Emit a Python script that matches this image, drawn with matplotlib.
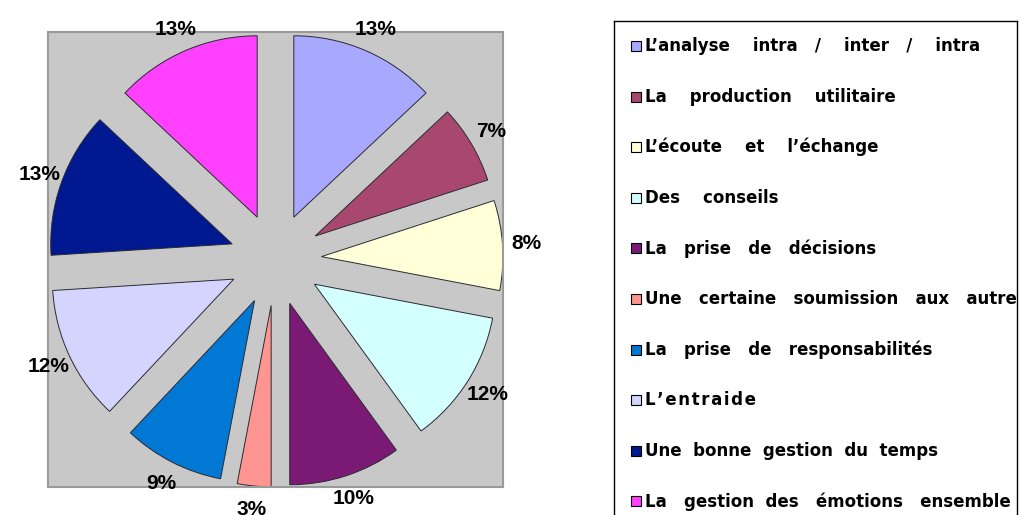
import numpy as np
import matplotlib
matplotlib.use("Agg")
from matplotlib import pyplot as plt
from matplotlib.patches import Rectangle

# parts de chaque réponse (en %), dans l'ordre du camembert (sens horaire depuis midi)
labels = [
    "L’analyse    intra   /    inter   /    intra",
    "La    production    utilitaire",
    "L’écoute    et    l’échange",
    "Des    conseils",
    "La   prise   de   décisions",
    "Une   certaine   soumission   aux   autres",
    "La   prise   de   responsabilités",
    "L\u200a’\u200ae\u200an\u200at\u200ar\u200aa\u200ai\u200ad\u200ae",
    "Une  bonne  gestion  du  temps",
    "La   gestion  des   émotions   ensemble",
]
values = [13, 7, 8, 12, 10, 3, 9, 12, 13, 13]
colors = ["#A8A8FF", "#A8486F", "#FFFFD8", "#D4FFFF", "#7A1A74",
          "#FF9590", "#0078D4", "#D4D4FF", "#001890", "#FF40FF"]

W, H = 1019, 515
fig = plt.figure(figsize=(W / 100, H / 100), dpi=100)
fig.patch.set_facecolor("white")

# zone du camembert (fond gris)
x0, y0, x1, y1 = 48, 32, 503, 487
ax = fig.add_axes([x0 / W, 1 - y1 / H, (x1 - x0) / W, (y1 - y0) / H])

expl = 0.254
wedges, texts, autotexts = ax.pie(
    values, colors=colors, startangle=90, counterclock=False,
    explode=[expl] * len(values), radius=1.0, frame=True,
    autopct=lambda p: "%d%%" % round(p), pctdistance=1.13,
    wedgeprops=dict(edgecolor="#2A2A33", linewidth=0.7),
    textprops=dict(fontsize=15, fontweight="bold", family="Liberation Sans", color="black"),
)
lim = 1 + expl
ax.set_xlim(-lim, lim)
ax.set_ylim(-lim, lim)
ax.set_aspect("auto")
ax.set_facecolor("#C8C8C8")
for s in ax.spines.values():
    s.set_color("#9A9A9A")
    s.set_linewidth(1.5)
ax.set_xticks([])
ax.set_yticks([])
for t in autotexts:
    t.set_clip_on(False)

# légende dessinée dans un cadre (le texte déborde et est coupé à droite)
lx0, lx1, ly0 = 614, 1017, 21
lax = fig.add_axes([lx0 / W, -0.1, (lx1 - lx0) / W, 1 - ly0 / H + 0.1])
lax.set_xlim(lx0, lx1)
lax.set_ylim(H + 0.1 * H, ly0)
lax.set_xticks([])
lax.set_yticks([])
for s in lax.spines.values():
    s.set_color("black")
    s.set_linewidth(1.0)
lax.patch.set_alpha(0)

row0, step = 46, 50.6
for i, (lab, c) in enumerate(zip(labels, colors)):
    yy = row0 + i * step
    lax.add_patch(Rectangle((631, yy - 5), 10, 10, facecolor=c,
                            edgecolor="black", linewidth=0.8))
    lax.text(645, yy, lab, fontsize=12, fontweight="bold",
             family="DejaVu Sans", va="center", ha="left", clip_on=True)

fig.savefig("out.png", dpi=100)
